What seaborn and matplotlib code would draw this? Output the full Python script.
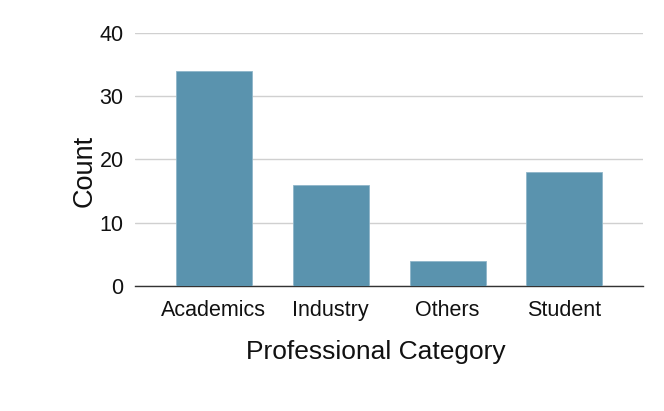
import matplotlib as mpl
import matplotlib.pyplot as plt
import pandas as pd
import seaborn as sns

categories = ["Academics", "Industry", "Others", "Student"]
counts = [34, 16, 4, 18]

df = pd.DataFrame({"Professional Category": categories, "Count": counts})

sns.set_style("white")
plt.rcParams["font.family"] = ["Liberation Sans", "DejaVu Sans"]

fig = plt.figure(figsize=(6.64, 4.11), dpi=100)
ax = fig.add_axes([0.203, 0.304, 0.765, 0.616])

sns.barplot(data=df, x="Professional Category", y="Count", color="#5a93ae",
            saturation=1, width=0.65, ax=ax, zorder=3,
            edgecolor="#8fb6c9", linewidth=0.6)

ax.set_ylim(0, 40)
ax.set_yticks([0, 10, 20, 30, 40])
ax.set_xlim(-0.675, 3.67)
ax.yaxis.grid(True, color="#d0d0d0", lw=1, zorder=0)
ax.set_axisbelow(True)
for s in ["top", "right", "left"]:
    ax.spines[s].set_visible(False)
ax.spines["bottom"].set_color("#333333")
ax.spines["bottom"].set_linewidth(1)
ax.tick_params(axis="both", length=0, labelsize=15.5, colors="#111111")
ax.tick_params(axis="y", pad=8)
ax.tick_params(axis="x", pad=10)
ax.set_xlabel("Professional Category", fontsize=19, color="#111111")
ax.set_ylabel("Count", fontsize=19.5, color="#111111")
ax.xaxis.set_label_coords(0.475, -0.215)
ax.yaxis.set_label_coords(-0.074, 0.455)

fig.savefig("out.png", dpi=100)
plt.close(fig)
